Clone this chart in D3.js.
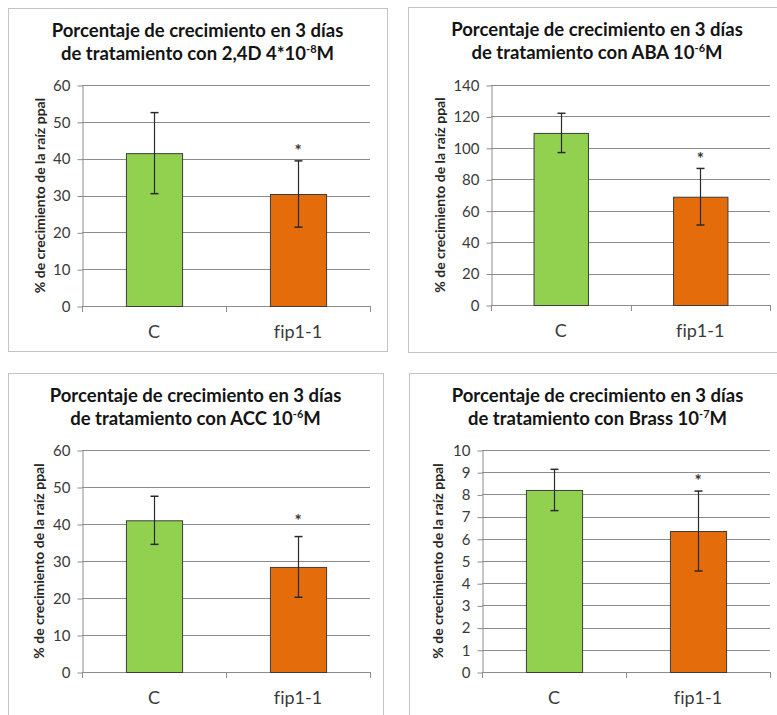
<!DOCTYPE html>
<html>
<head>
<meta charset="utf-8">
<script src="https://cdn.jsdelivr.net/npm/d3@7"></script>
<style>
  html, body { margin: 0; padding: 0; background: #ffffff; }
  svg { display: block; }
  text { font-family: Lato, "Open Sans", sans-serif; font-variant-ligatures: none; }
</style>
</head>
<body>
<svg id="chart" width="777" height="715"></svg>
<script>
// ---- data ----
const categories = ["C", "fip1-1"];
const titleLine1 = "Porcentaje de crecimiento en 3 días";
const treatments = ["2,4D 4*10", "ABA 10", "ACC 10", "Brass 10"];
const exponents = ["-8", "-6", "-6", "-7"];
const means = [
  [41.5, 30.4],
  [109.5, 68.9],
  [41.0, 28.4],
  [8.2, 6.35]
];
const errors = [
  [11.0, 9.0],
  [12.5, 18.0],
  [6.5, 8.2],
  [0.93, 1.8]
];
const yMax = [60, 140, 60, 10];
const yStep = [10, 20, 10, 1];
// height (in axis units) of the significance asterisk above fip1-1
const starLevel = [43.2, 95.5, 42.0, 8.78];
const yAxisTitle = "% de crecimiento de la raíz ppal";

// ---- layout ----
const frames = [
  { x: 8,   y: 8,   w: 379, h: 343 },
  { x: 408, y: 7,   w: 378, h: 345 },
  { x: 8,   y: 373, w: 375, h: 360 },
  { x: 409, y: 373, w: 377, h: 360 }
];
const plots = [
  { left: 82,  right: 370, top: 85,  bottom: 306, labelOff: 37 },
  { left: 491, right: 770, top: 85,  bottom: 305, labelOff: 46 },
  { left: 82,  right: 370, top: 450, bottom: 672, labelOff: 38 },
  { left: 482, right: 770, top: 450, bottom: 672, labelOff: 39 }
];
const barColors = ["#92D050", "#E46C0A"];
const gridColor = "#8c8c8c";
const textColor = "#3a3a3a";

const svg = d3.select("#chart");

treatments.forEach((tr, i) => {
  const f = frames[i], p = plots[i];
  const g = svg.append("g");

  // chart frame
  g.append("rect")
    .attr("x", f.x + 0.5).attr("y", f.y + 0.5)
    .attr("width", f.w).attr("height", f.h)
    .attr("fill", "#fff").attr("stroke", "#c4c4c4").attr("stroke-width", 1);

  // title (two lines, superscript exponent)
  const cx = f.x + f.w / 2;
  const title = g.append("text")
    .attr("text-anchor", "middle")
    .attr("font-weight", 700)
    .attr("font-size", 18.5)
    .attr("fill", "#141414");
  title.append("tspan").attr("x", cx).attr("y", f.y + 29).text(titleLine1);
  const l2 = title.append("tspan").attr("x", cx).attr("y", f.y + 52);
  l2.append("tspan").text("de tratamiento con " + tr);
  l2.append("tspan").attr("font-size", 11).attr("dy", -7).text(exponents[i]);
  l2.append("tspan").attr("dy", 7).text("M");

  // scales
  const y = d3.scaleLinear().domain([0, yMax[i]]).range([p.bottom, p.top]);
  const x = d3.scaleBand().domain(categories).range([p.left, p.right])
    .paddingInner(0.61).paddingOuter(0.305);
  const ticks = d3.range(0, yMax[i] + yStep[i] / 2, yStep[i]);

  // horizontal gridlines
  g.append("g").selectAll("line").data(ticks.filter(t => t > 0)).join("line")
    .attr("x1", p.left).attr("x2", p.right)
    .attr("y1", d => Math.round(y(d)) + 0.5).attr("y2", d => Math.round(y(d)) + 0.5)
    .attr("stroke", gridColor).attr("stroke-width", 1);

  // y axis with outside tick marks
  const ya = g.append("g").attr("transform", `translate(${p.left + 0.5},0.5)`)
    .call(d3.axisLeft(y).tickValues(ticks).tickSize(5).tickSizeOuter(0).tickPadding(7)
      .tickFormat(d3.format("d")));
  ya.select(".domain").attr("stroke", gridColor);
  ya.selectAll(".tick line").attr("stroke", gridColor);
  ya.selectAll(".tick text").attr("font-size", 15).attr("fill", textColor)
    .attr("font-family", "Lato, sans-serif");

  // x axis: baseline with tick marks at category boundaries
  const bounds = [p.left, (p.left + p.right) / 2, p.right];
  g.append("line")
    .attr("x1", p.left).attr("x2", p.right)
    .attr("y1", p.bottom + 0.5).attr("y2", p.bottom + 0.5)
    .attr("stroke", gridColor);
  g.append("g").selectAll("line").data(bounds).join("line")
    .attr("x1", d => Math.round(d) + 0.5).attr("x2", d => Math.round(d) + 0.5)
    .attr("y1", p.bottom).attr("y2", p.bottom + 6)
    .attr("stroke", gridColor);

  // bars
  const rows = categories.map((c, j) => ({ c, v: means[i][j], e: errors[i][j], color: barColors[j] }));
  g.append("g").selectAll("rect").data(rows).join("rect")
    .attr("x", d => x(d.c) + 0.5)
    .attr("y", d => y(d.v) + 0.5)
    .attr("width", x.bandwidth())
    .attr("height", d => y(0) - y(d.v))
    .attr("fill", d => d.color)
    .attr("stroke", "#3c3c3c").attr("stroke-width", 1);

  // error bars
  const eb = g.append("g").selectAll("g").data(rows).join("g")
    .attr("transform", d => `translate(${Math.round(x(d.c) + x.bandwidth() / 2) + 0.5},0)`);
  eb.append("line")
    .attr("y1", d => y(d.v + d.e)).attr("y2", d => y(d.v - d.e))
    .attr("stroke", "#2a2a2a").attr("stroke-width", 1.2);
  eb.append("line")
    .attr("x1", -4).attr("x2", 4)
    .attr("y1", d => y(d.v + d.e)).attr("y2", d => y(d.v + d.e))
    .attr("stroke", "#2a2a2a").attr("stroke-width", 1.5);
  eb.append("line")
    .attr("x1", -4).attr("x2", 4)
    .attr("y1", d => y(d.v - d.e)).attr("y2", d => y(d.v - d.e))
    .attr("stroke", "#2a2a2a").attr("stroke-width", 1.5);

  // significance marker
  g.append("text")
    .attr("x", x(categories[1]) + x.bandwidth() / 2)
    .attr("y", y(starLevel[i]) + 10)
    .attr("text-anchor", "middle")
    .attr("font-size", 17).attr("font-weight", 700)
    .attr("fill", "#333")
    .text("*");

  // category labels
  g.append("g").selectAll("text").data(categories).join("text")
    .attr("x", d => x(d) + x.bandwidth() / 2)
    .attr("y", p.bottom + 32)
    .attr("text-anchor", "middle")
    .attr("font-size", 18)
    .attr("fill", textColor)
    .text(d => d);

  // y axis title
  g.append("text")
    .attr("transform", `translate(${p.left - p.labelOff},${(p.top + p.bottom) / 2}) rotate(-90)`)
    .attr("text-anchor", "middle")
    .attr("font-size", 14).attr("font-weight", 700)
    .attr("fill", "#262626")
    .text(yAxisTitle);
});
</script>
</body>
</html>
